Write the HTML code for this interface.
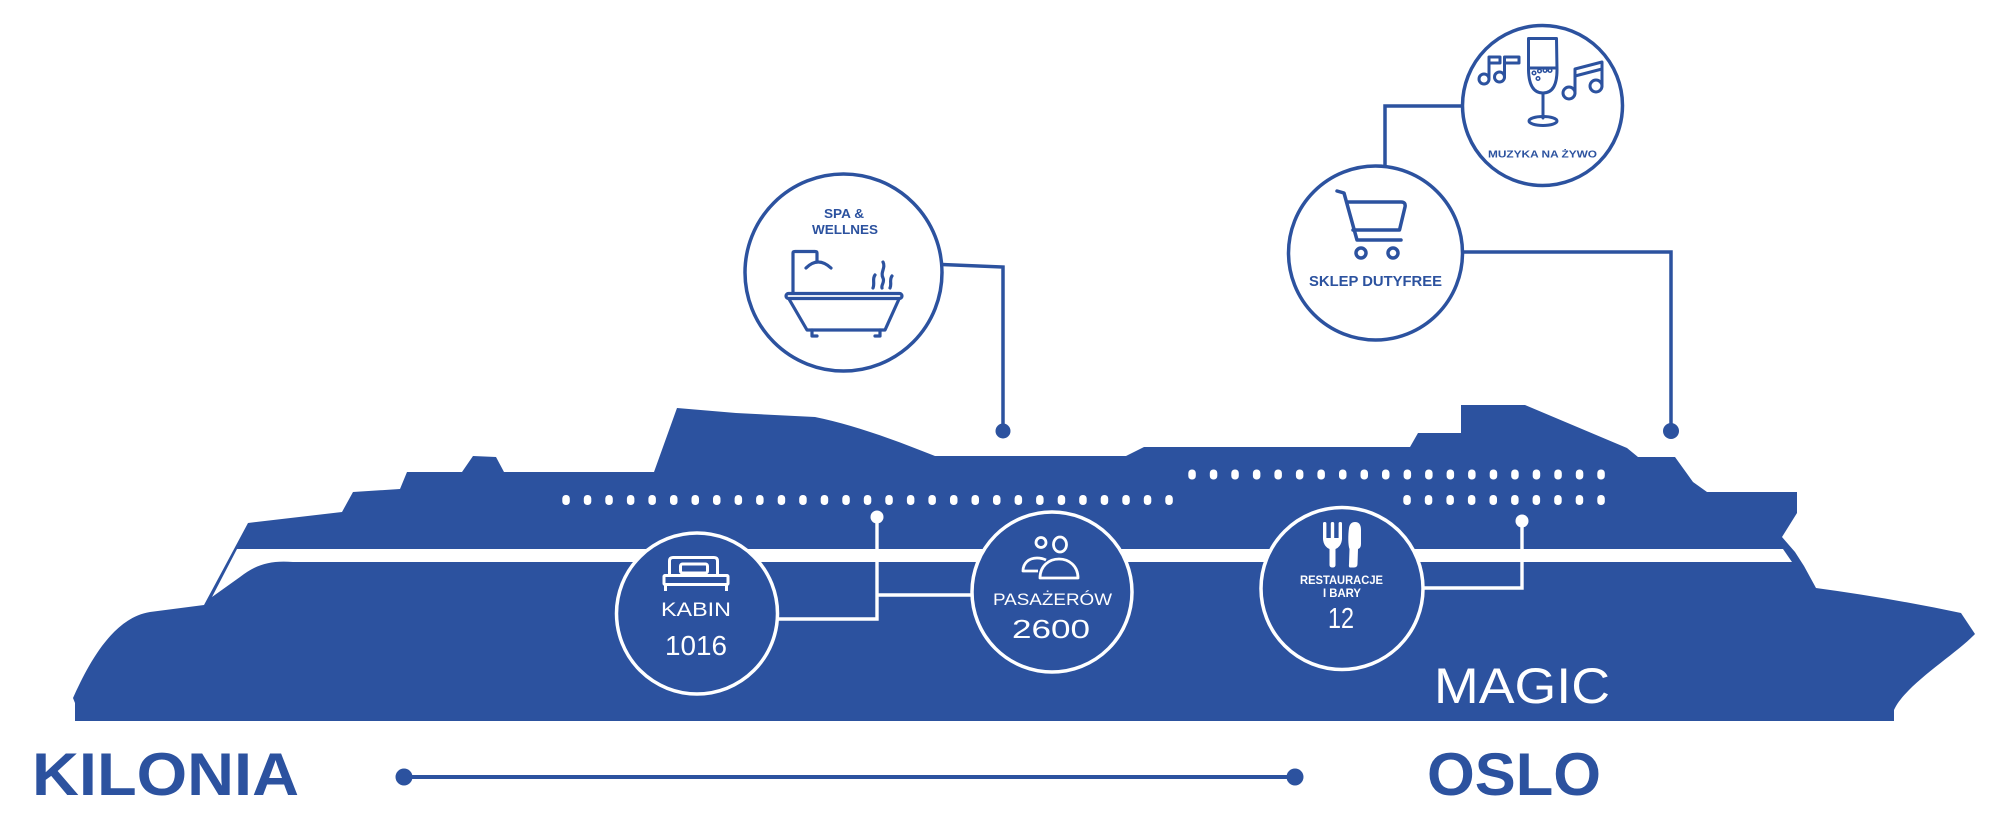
<!DOCTYPE html>
<html>
<head>
<meta charset="utf-8">
<style>
  html, body { margin: 0; padding: 0; background: #ffffff; }
  svg { display: block; }
  text { font-family: "Liberation Sans", "DejaVu Sans", sans-serif; }
</style>
</head>
<body>
<svg width="2000" height="825" viewBox="0 0 2000 825" xmlns="http://www.w3.org/2000/svg">
  <rect x="0" y="0" width="2000" height="825" fill="#ffffff"/>

  <!-- Ship silhouette -->
  <path fill="#2c529f" d="
    M75,721 L75,703 L73,698
    C 88,665 112,618 150,612
    L204,605 L248,523 L342,512 L353,492 L400,489 L407,472
    L462,472 L473,456 L496,457 L504,472
    L654,472 L677,408 L736,413 L815,417
    C 850,424 890,438 935,456
    L1126,456 L1144,447 L1410,447 L1418,433 L1461,433 L1461,405 L1525,405
    L1627,448 L1638,457 L1675,457 L1693,482 L1707,492 L1797,492 L1797,513
    L1782,537 L1795,552 L1804,566 L1816,588
    Q1890,598 1961,613
    L1975,634
    C1955,655 1905,685 1894,710
    L1894,721 Z"/>

  <!-- White stripe -->
  <path fill="#ffffff" d="M237,549 L1783,549 L1792,562 L293,562 C270,560 255,565 240,577 L212,597 Z"/>

  <!-- Windows lower row left -->
  <g fill="#ffffff">
    <rect x="562.3" y="495" width="7.5" height="10" rx="3.5"/>
    <rect x="583.8" y="495" width="7.5" height="10" rx="3.5"/>
    <rect x="605.3" y="495" width="7.5" height="10" rx="3.5"/>
    <rect x="626.9" y="495" width="7.5" height="10" rx="3.5"/>
    <rect x="648.4" y="495" width="7.5" height="10" rx="3.5"/>
    <rect x="670.0" y="495" width="7.5" height="10" rx="3.5"/>
    <rect x="691.5" y="495" width="7.5" height="10" rx="3.5"/>
    <rect x="713.0" y="495" width="7.5" height="10" rx="3.5"/>
    <rect x="734.6" y="495" width="7.5" height="10" rx="3.5"/>
    <rect x="756.1" y="495" width="7.5" height="10" rx="3.5"/>
    <rect x="777.7" y="495" width="7.5" height="10" rx="3.5"/>
    <rect x="799.2" y="495" width="7.5" height="10" rx="3.5"/>
    <rect x="820.7" y="495" width="7.5" height="10" rx="3.5"/>
    <rect x="842.3" y="495" width="7.5" height="10" rx="3.5"/>
    <rect x="863.8" y="495" width="7.5" height="10" rx="3.5"/>
    <rect x="885.3" y="495" width="7.5" height="10" rx="3.5"/>
    <rect x="906.9" y="495" width="7.5" height="10" rx="3.5"/>
    <rect x="928.4" y="495" width="7.5" height="10" rx="3.5"/>
    <rect x="950.0" y="495" width="7.5" height="10" rx="3.5"/>
    <rect x="971.5" y="495" width="7.5" height="10" rx="3.5"/>
    <rect x="993.0" y="495" width="7.5" height="10" rx="3.5"/>
    <rect x="1014.6" y="495" width="7.5" height="10" rx="3.5"/>
    <rect x="1036.1" y="495" width="7.5" height="10" rx="3.5"/>
    <rect x="1057.7" y="495" width="7.5" height="10" rx="3.5"/>
    <rect x="1079.2" y="495" width="7.5" height="10" rx="3.5"/>
    <rect x="1100.7" y="495" width="7.5" height="10" rx="3.5"/>
    <rect x="1122.3" y="495" width="7.5" height="10" rx="3.5"/>
    <rect x="1143.8" y="495" width="7.5" height="10" rx="3.5"/>
    <rect x="1165.3" y="495" width="7.5" height="10" rx="3.5"/>
  </g>

  <!-- Windows upper row right -->
  <g fill="#ffffff">
    <rect x="1188.3" y="469.5" width="7.5" height="10" rx="3.5"/>
    <rect x="1209.8" y="469.5" width="7.5" height="10" rx="3.5"/>
    <rect x="1231.3" y="469.5" width="7.5" height="10" rx="3.5"/>
    <rect x="1252.9" y="469.5" width="7.5" height="10" rx="3.5"/>
    <rect x="1274.4" y="469.5" width="7.5" height="10" rx="3.5"/>
    <rect x="1295.9" y="469.5" width="7.5" height="10" rx="3.5"/>
    <rect x="1317.4" y="469.5" width="7.5" height="10" rx="3.5"/>
    <rect x="1339.0" y="469.5" width="7.5" height="10" rx="3.5"/>
    <rect x="1360.5" y="469.5" width="7.5" height="10" rx="3.5"/>
    <rect x="1382.0" y="469.5" width="7.5" height="10" rx="3.5"/>
    <rect x="1403.6" y="469.5" width="7.5" height="10" rx="3.5"/>
    <rect x="1425.1" y="469.5" width="7.5" height="10" rx="3.5"/>
    <rect x="1446.6" y="469.5" width="7.5" height="10" rx="3.5"/>
    <rect x="1468.1" y="469.5" width="7.5" height="10" rx="3.5"/>
    <rect x="1489.7" y="469.5" width="7.5" height="10" rx="3.5"/>
    <rect x="1511.2" y="469.5" width="7.5" height="10" rx="3.5"/>
    <rect x="1532.7" y="469.5" width="7.5" height="10" rx="3.5"/>
    <rect x="1554.3" y="469.5" width="7.5" height="10" rx="3.5"/>
    <rect x="1575.8" y="469.5" width="7.5" height="10" rx="3.5"/>
    <rect x="1597.3" y="469.5" width="7.5" height="10" rx="3.5"/>
  </g>

  <!-- Windows lower row right -->
  <g fill="#ffffff">
    <rect x="1403.3" y="495" width="7.5" height="10" rx="3.5"/>
    <rect x="1424.8" y="495" width="7.5" height="10" rx="3.5"/>
    <rect x="1446.4" y="495" width="7.5" height="10" rx="3.5"/>
    <rect x="1467.9" y="495" width="7.5" height="10" rx="3.5"/>
    <rect x="1489.5" y="495" width="7.5" height="10" rx="3.5"/>
    <rect x="1511.1" y="495" width="7.5" height="10" rx="3.5"/>
    <rect x="1532.6" y="495" width="7.5" height="10" rx="3.5"/>
    <rect x="1554.2" y="495" width="7.5" height="10" rx="3.5"/>
    <rect x="1575.7" y="495" width="7.5" height="10" rx="3.5"/>
    <rect x="1597.3" y="495" width="7.5" height="10" rx="3.5"/>
  </g>

  <!-- White connectors inside ship -->
  <g stroke="#ffffff" stroke-width="3.4" fill="none">
    <path d="M877,517 V619 H777"/>
    <path d="M877,595 H972"/>
    <path d="M1522,521 V588 H1423"/>
  </g>
  <circle cx="877" cy="517" r="6.5" fill="#ffffff"/>
  <circle cx="1522" cy="521" r="6.5" fill="#ffffff"/>

  <!-- Ship circles -->
  <g fill="#2c529f" stroke="#ffffff" stroke-width="3.5">
    <circle cx="697" cy="613.5" r="80.5"/>
    <circle cx="1052" cy="592" r="80"/>
    <circle cx="1342" cy="588.5" r="81"/>
  </g>

  <!-- Bed icon -->
  <g stroke="#ffffff" stroke-width="3" fill="none" stroke-linejoin="round">
    <path d="M669.5,575 V561 Q669.5,557.5 673,557.5 H714 Q717.5,557.5 717.5,561 V575"/>
    <rect x="680.5" y="564" width="27" height="9" rx="2"/>
    <rect x="664" y="575.5" width="64" height="9" rx="1"/>
    <path d="M665.5,584 V591 M726.5,584 V591"/>
  </g>

  <!-- People icon -->
  <g stroke="#ffffff" stroke-width="2.8" fill="none" stroke-linejoin="round">
    <circle cx="1041" cy="542.5" r="5"/>
    <ellipse cx="1060" cy="544.5" rx="6.5" ry="7.5"/>
    <path d="M1046,560 C1043,558.5 1040,558 1037,558 C1029,558 1023,563 1023,571 H1038"/>
    <path d="M1040,578 C1040,566 1049,559 1059,559 C1069,559 1078,566 1078,578 Z"/>
  </g>

  <!-- Fork and knife -->
  <g fill="#ffffff">
    <rect x="1323" y="522" width="3.4" height="18" rx="1.5"/>
    <rect x="1330.8" y="522" width="3.4" height="18" rx="1.5"/>
    <rect x="1338.6" y="522" width="3.4" height="18" rx="1.5"/>
    <path d="M1323,538 H1342 C1342,545 1338,548 1335.5,549 V565 Q1335.5,567.5 1332.5,567.5 Q1329.5,567.5 1329.5,565 V549 C1327,548 1323,545 1323,538 Z"/>
    <path d="M1350,567.5 Q1348.5,567.5 1349,564 L1349.5,549 C1348,545 1348,535 1349,528 Q1350,522 1355,522 Q1361,522 1361,530 L1361,544 Q1361,548 1358,549 L1357.5,564 Q1357.5,567.5 1354,567.5 Z"/>
  </g>

  <!-- White texts in ship circles -->
  <g fill="#ffffff">
    <text x="661" y="616" font-size="19.5" textLength="70" lengthAdjust="spacingAndGlyphs">KABIN</text>
    <text x="665" y="655" font-size="28" textLength="62" lengthAdjust="spacingAndGlyphs">1016</text>
    <text x="993" y="605" font-size="17" textLength="119" lengthAdjust="spacingAndGlyphs">PASAŻERÓW</text>
    <text x="1012" y="638" font-size="26" textLength="78" lengthAdjust="spacingAndGlyphs">2600</text>
    <text x="1300" y="584" font-size="11.5" font-weight="bold" textLength="83" lengthAdjust="spacingAndGlyphs">RESTAURACJE</text>
    <text x="1323" y="597" font-size="11.5" font-weight="bold" textLength="38" lengthAdjust="spacingAndGlyphs">I BARY</text>
    <text x="1328" y="628" font-size="29" textLength="26" lengthAdjust="spacingAndGlyphs">12</text>
    <text x="1434" y="703" font-size="50" textLength="176" lengthAdjust="spacingAndGlyphs">MAGIC</text>
  </g>

  <!-- Blue connectors above ship -->
  <g stroke="#2c529f" stroke-width="3.5" fill="none">
    <path d="M942,264.5 L1003,267 V431"/>
    <path d="M1462,106 H1385 V166"/>
    <path d="M1463,252 H1671 V431"/>
  </g>
  <circle cx="1003" cy="431" r="7.5" fill="#2c529f"/>
  <circle cx="1671" cy="431" r="8" fill="#2c529f"/>

  <!-- Top circles -->
  <g fill="#ffffff" stroke="#2c529f" stroke-width="3.5">
    <circle cx="843.5" cy="272.5" r="98.5"/>
    <circle cx="1375.5" cy="253" r="87"/>
    <circle cx="1542.5" cy="105.5" r="80"/>
  </g>

  <!-- Bathtub icon -->
  <g stroke="#2c529f" stroke-width="3.2" fill="none" stroke-linejoin="round" stroke-linecap="round">
    <rect x="786" y="293.5" width="116" height="5" rx="2.5"/>
    <path d="M789,299 L807,330 H885 L899,299"/>
    <path d="M812,330 V336 H817 M880,330 V336 H875"/>
    <path d="M793,293 V253 Q793,251.5 795,251.5 H815 Q817,251.5 817,253 V262"/>
    <path d="M806,268 Q818,256 831,268"/>
    <path d="M875,275 C872,279 875,283 873,288"/>
    <path d="M883,262 C886,268 880,272 883,278 C885,282 881,285 882,288"/>
    <path d="M892,276 C889,280 892,284 890,288"/>
  </g>

  <!-- Cart icon -->
  <g stroke="#2c529f" stroke-width="3.5" fill="none" stroke-linejoin="round" stroke-linecap="round">
    <path d="M1337,191 L1344,193 L1357,240 H1401"/>
    <path d="M1348,202 H1401 Q1406,202 1405,207 L1399.5,230 H1353"/>
    <circle cx="1361" cy="253" r="5"/>
    <circle cx="1393" cy="253" r="5"/>
  </g>

  <!-- Glass and notes -->
  <g stroke="#2c529f" stroke-width="3" fill="none" stroke-linejoin="round" stroke-linecap="round">
    <path d="M1528.5,38.5 H1556.5 L1557,70 Q1557,93 1543,93 Q1529,93 1528.5,70 Z"/>
    <path d="M1529,68 H1556.5"/>
    <path d="M1543,93 V118"/>
    <ellipse cx="1543" cy="121" rx="14" ry="4.5"/>
    <g stroke-width="1.5">
      <circle cx="1534" cy="73" r="1.8"/>
      <circle cx="1539.5" cy="71" r="1.8"/>
      <circle cx="1545" cy="70.5" r="1.8"/>
      <circle cx="1550" cy="70.5" r="1.8"/>
      <circle cx="1538" cy="78.5" r="1.8"/>
    </g>
    <!-- left notes -->
    <circle cx="1484" cy="79" r="5"/>
    <path d="M1489,79 V57 H1500 V63 H1489"/>
    <circle cx="1499.5" cy="77" r="5"/>
    <path d="M1504.5,77 V57 H1519 V63 H1504.5"/>
    <!-- right note -->
    <circle cx="1569" cy="93" r="6"/>
    <circle cx="1596" cy="86" r="6"/>
    <path d="M1575,93 V69 L1602,62 V86"/>
    <path d="M1575,76 L1602,69"/>
  </g>

  <!-- Blue texts top circles -->
  <g fill="#2c529f" font-weight="bold">
    <text x="824" y="218" font-size="12.5" textLength="40" lengthAdjust="spacingAndGlyphs">SPA &amp;</text>
    <text x="812" y="234" font-size="12.5" textLength="66" lengthAdjust="spacingAndGlyphs">WELLNES</text>
    <text x="1488" y="157.3" font-size="10" textLength="109" lengthAdjust="spacingAndGlyphs">MUZYKA NA ŻYWO</text>
    <text x="1309" y="286" font-size="14.5" textLength="133" lengthAdjust="spacingAndGlyphs">SKLEP DUTYFREE</text>
  </g>

  <!-- Route line -->
  <path d="M404,777 H1295" stroke="#2c529f" stroke-width="4"/>
  <circle cx="404" cy="777" r="8.5" fill="#2c529f"/>
  <circle cx="1295" cy="777" r="8.5" fill="#2c529f"/>

  <!-- City names -->
  <g fill="#2c529f" font-weight="bold">
    <text x="32" y="795" font-size="60" textLength="267" lengthAdjust="spacingAndGlyphs">KILONIA</text>
    <text x="1427" y="795" font-size="60" textLength="174" lengthAdjust="spacingAndGlyphs">OSLO</text>
  </g>
</svg>
</body>
</html>
